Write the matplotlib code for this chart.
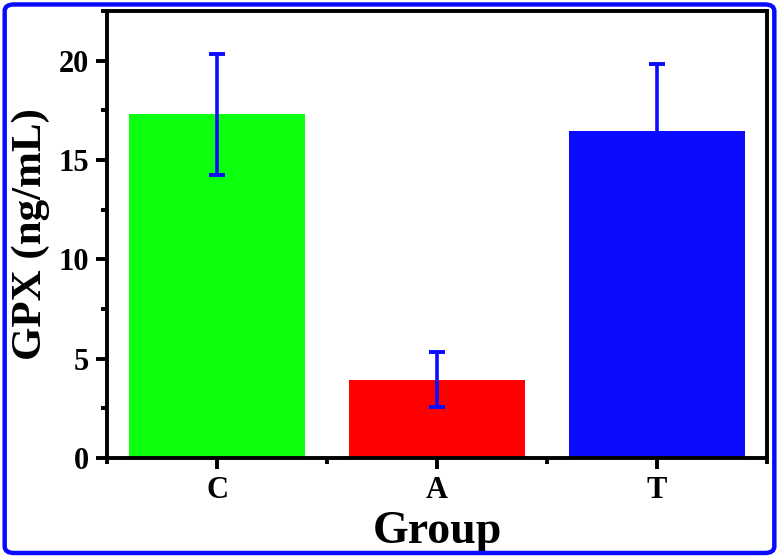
import matplotlib
matplotlib.use("Agg")
import matplotlib.pyplot as plt
from matplotlib.patches import FancyBboxPatch
from matplotlib.ticker import MultipleLocator, FixedLocator

# Data
groups = ["C", "A", "T"]
gpx_mean = [17.3, 3.95, 16.45]
gpx_err = [3.05, 1.4, 3.4]
bar_colors = ["#0cff0c", "#ff0000", "#0b0bff"]

plt.rcParams["font.family"] = ["Liberation Serif", "DejaVu Serif"]
plt.rcParams["font.weight"] = "bold"

fig = plt.figure(figsize=(7.79, 5.58), dpi=100)
ax = fig.add_axes([0.1374, 0.1792, 0.8472, 0.8011])

x = list(range(1, len(groups) + 1))
ax.bar(x, gpx_mean, width=0.8, color=bar_colors, zorder=2)
ax.errorbar(x, gpx_mean, yerr=gpx_err, fmt="none", ecolor="#0b0bff",
            elinewidth=2.6, capsize=5.5, capthick=2.8, zorder=3)

ax.set_xlim(0.5, 3.5)
ax.set_ylim(0, 22.5)
ax.set_xticks(x)
ax.set_xticklabels(groups)
ax.xaxis.set_minor_locator(FixedLocator([0.5, 1.5, 2.5, 3.5]))
ax.yaxis.set_major_locator(MultipleLocator(5))
ax.yaxis.set_minor_locator(MultipleLocator(2.5))

for side in ax.spines.values():
    side.set_linewidth(2.8)
ax.tick_params(which="major", direction="out", length=8, width=2.8,
               labelsize=22, pad=5)
ax.tick_params(which="minor", direction="out", length=4, width=2.8)
ax.tick_params(top=False, right=False, which="both")
for lab in ax.get_xticklabels() + ax.get_yticklabels():
    lab.set_fontweight("bold")

ax.set_xlabel("Group", fontsize=33, fontweight="bold", labelpad=4)
ax.set_ylabel("GPX (ng/mL)", fontsize=31, fontweight="bold", labelpad=6)

# rounded blue frame around the whole figure
frame = FancyBboxPatch((0.006, 0.009), 0.988, 0.983,
                       boxstyle="round,pad=0,rounding_size=0.012",
                       transform=fig.transFigure, fill=False,
                       edgecolor="#0a0aff", linewidth=3.2)
fig.patches.append(frame)

fig.savefig("out.png", dpi=100)
